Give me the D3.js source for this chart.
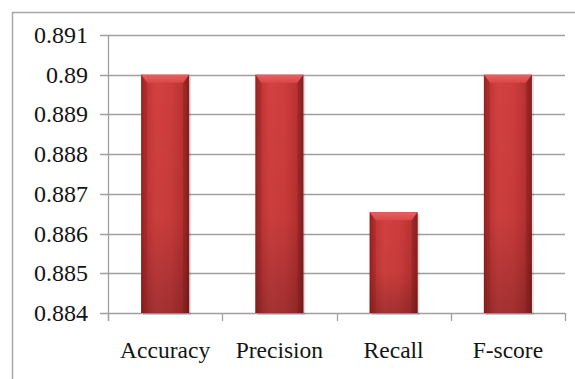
<!DOCTYPE html>
<html><head><meta charset="utf-8">
<script src="https://cdn.jsdelivr.net/npm/d3@7"></script>
<style>html,body{margin:0;padding:0;background:#fff;overflow:hidden}
text{font-family:"Liberation Serif","Times New Roman",Tinos,"DejaVu Serif",serif}</style>
</head><body>
<svg id="c" width="575" height="379"></svg>
<script>
const categories = ["Accuracy", "Precision", "Recall", "F-score"];
const values = [0.89, 0.89, 0.88654, 0.89];
const yTicks = [0.884, 0.885, 0.886, 0.887, 0.888, 0.889, 0.89, 0.891];
const yTickLabels = ["0.884", "0.885", "0.886", "0.887", "0.888", "0.889", "0.89", "0.891"];

const svg = d3.select("#c");
const L = 108, R = 565, T = 35, B = 313;

// outer border (only top and left visible)
svg.append("rect").attr("x", 12.5).attr("y", 12.5).attr("width", 600).attr("height", 400)
  .attr("fill", "none").attr("stroke", "#a6a6a6").attr("stroke-width", 1.5);

const x = d3.scaleBand().domain(categories).range([L, R]).paddingInner(0.58).paddingOuter(0.29);
const y = d3.scaleLinear().domain([0.884, 0.891]).range([B, T]);

const defs = svg.append("defs");
const gh = defs.append("linearGradient").attr("id", "gh").attr("x1", 0).attr("x2", 1).attr("y1", 0).attr("y2", 0);
[[0, "#9a2424"], [0.08, "#bf3434"], [0.3, "#d24040"], [0.6, "#cf3d3d"], [0.9, "#b83131"], [1, "#8e2020"]]
  .forEach(([o, c]) => gh.append("stop").attr("offset", o).attr("stop-color", c));
const gv = defs.append("linearGradient").attr("id", "gv").attr("x1", 0).attr("x2", 0).attr("y1", 0).attr("y2", 1);
[[0, "#000", 0], [0.6, "#000", 0.04], [1, "#000", 0.22]]
  .forEach(([o, c, op]) => gv.append("stop").attr("offset", o).attr("stop-color", c).attr("stop-opacity", op));
const gt = defs.append("linearGradient").attr("id", "gt").attr("x1", 0).attr("x2", 0).attr("y1", 0).attr("y2", 1);
[[0, "#e86060"], [1, "#d84848"]].forEach(([o, c]) => gt.append("stop").attr("offset", o).attr("stop-color", c));

// gridlines
svg.append("g").selectAll("line").data(yTicks).join("line")
  .attr("x1", L - 8).attr("x2", R).attr("y1", d => Math.round(y(d)) + 0.5).attr("y2", d => Math.round(y(d)) + 0.5)
  .attr("stroke", "#a0a0a0").attr("stroke-width", 1.3);

// y axis line
svg.append("line").attr("x1", L + 0.5).attr("x2", L + 0.5).attr("y1", T).attr("y2", B + 8)
  .attr("stroke", "#a0a0a0").attr("stroke-width", 1.3);
// x tick marks
svg.append("g").selectAll("line").data(categories.map((c, i) => L + x.step() * (i + 1)).concat([L])).join("line")
  .attr("x1", d => Math.round(d) + 0.5).attr("x2", d => Math.round(d) + 0.5).attr("y1", B).attr("y2", B + 8)
  .attr("stroke", "#a0a0a0").attr("stroke-width", 1.3);

// y labels
svg.append("g").selectAll("text").data(yTicks).join("text")
  .attr("x", 88).attr("y", d => y(d) + 8).attr("text-anchor", "end")
  .attr("font-size", 24).attr("fill", "#141414")
  .text((d, i) => yTickLabels[i]);

// x labels
svg.append("g").selectAll("text").data(categories).join("text")
  .attr("x", d => x(d) + x.bandwidth() / 2).attr("y", 358).attr("text-anchor", "middle")
  .attr("font-size", 23.5).attr("fill", "#141414")
  .text(d => d);

// bars
const bars = svg.append("g").selectAll("g").data(categories.map((c, i) => ({c, v: values[i]}))).join("g");
bars.append("rect").attr("x", d => x(d.c) + 2).attr("y", d => y(d.v) + 2).attr("width", x.bandwidth()).attr("height", d => B - y(d.v))
  .attr("fill", "#000").attr("opacity", 0.12);
bars.append("rect").attr("x", d => x(d.c)).attr("y", d => y(d.v)).attr("width", x.bandwidth()).attr("height", d => B - y(d.v))
  .attr("fill", "url(#gh)");
bars.append("rect").attr("x", d => x(d.c)).attr("y", d => y(d.v)).attr("width", x.bandwidth()).attr("height", d => B - y(d.v))
  .attr("fill", "url(#gv)");
// top bevel
bars.append("path").attr("d", d => {
  const x0 = x(d.c), x1 = x0 + x.bandwidth(), t = y(d.v), h = 8, s = 6;
  return `M${x0},${t}L${x1},${t}L${x1 - s},${t + h}L${x0 + s},${t + h}Z`;
}).attr("fill", "url(#gt)");
bars.append("path").attr("d", d => {
  const x0 = x(d.c), t = y(d.v);
  return `M${x0},${t}L${x0 + 6},${t + 8}L${x0 + 6},${B}L${x0},${B}Z`;
}).attr("fill", "#8a1e1e").attr("opacity", 0.35);
bars.append("path").attr("d", d => {
  const x1 = x(d.c) + x.bandwidth(), t = y(d.v);
  return `M${x1},${t}L${x1 - 6},${t + 8}L${x1 - 6},${B}L${x1},${B}Z`;
}).attr("fill", "#7a1a1a").attr("opacity", 0.4);
</script>
</body></html>
